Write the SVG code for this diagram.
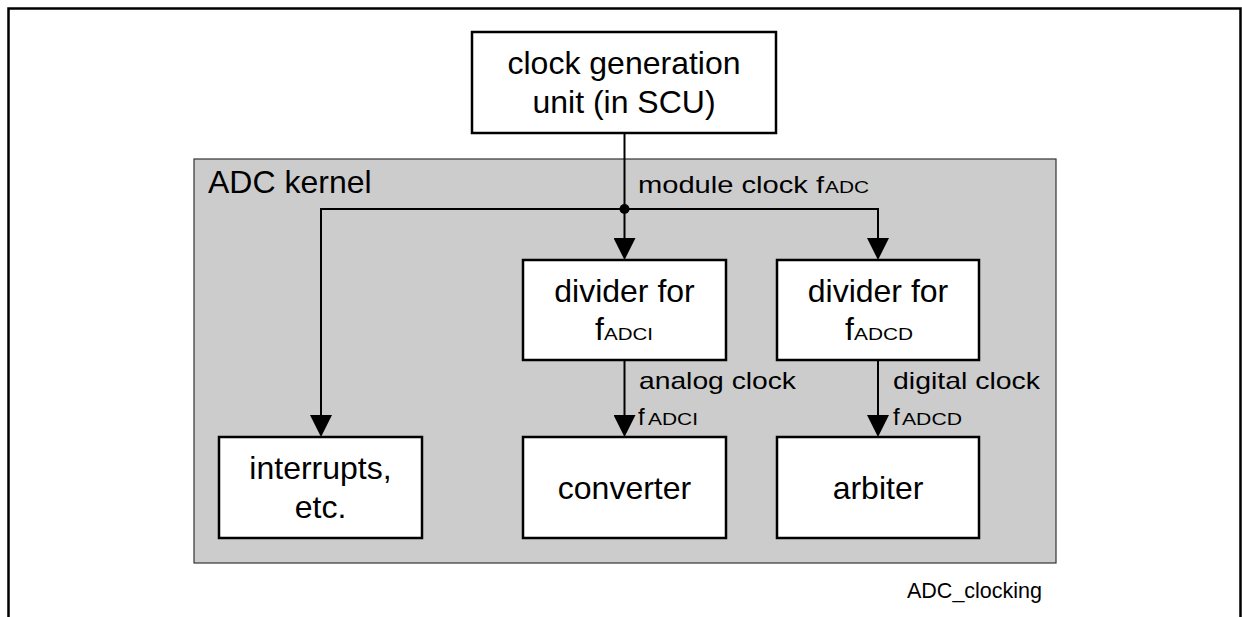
<svg xmlns="http://www.w3.org/2000/svg" width="1242" height="617" viewBox="0 0 1242 617">
<style>
.box{fill:#ffffff;stroke:#000000;stroke-width:2.5}
.t{font-family:"Liberation Sans",Arial,sans-serif;font-size:32px;fill:#000000}
.c{text-anchor:middle}
.lbl{font-family:"Liberation Sans",Arial,sans-serif;font-size:24px;fill:#000000}
.sub{font-family:"Liberation Sans",Arial,sans-serif;font-size:17px;fill:#000000}
.conn{fill:none;stroke:#000000;stroke-width:2}
</style>
<defs>
<marker id="arr" markerUnits="userSpaceOnUse" markerWidth="22" markerHeight="22" refX="12" refY="11" orient="auto">
<path d="M0,0 L22,11 L0,22 z" fill="#000000"/>
</marker>
</defs>
<rect width="1242" height="617" fill="#ffffff"/>
<path d="M8.5,617 V8.5 H1240.5 V617" fill="none" stroke="#000000" stroke-width="2.5"/>
<g id="adc-kernel">
<rect x="194" y="159" width="862" height="404" fill="#cccccc" stroke="#333333" stroke-width="1.2"/>
<text class="t" x="208" y="193">ADC kernel</text>
</g>
<g id="connectors">
<path class="conn" d="M624.5,133 V250" marker-end="url(#arr)"/>
<path class="conn" d="M624.5,209 H321 V427" marker-end="url(#arr)"/>
<path class="conn" d="M624.5,209 H878 V250" marker-end="url(#arr)"/>
<path class="conn" d="M624.5,360 V427" marker-end="url(#arr)"/>
<path class="conn" d="M878,360 V427" marker-end="url(#arr)"/>
<circle cx="624.5" cy="209" r="5" fill="#000000"/>
<text class="lbl" x="638" y="193" textLength="186" lengthAdjust="spacingAndGlyphs">module clock f</text>
<text class="sub" x="825" y="193" textLength="44" lengthAdjust="spacingAndGlyphs">ADC</text>
<text class="lbl" x="639" y="389" textLength="157" lengthAdjust="spacingAndGlyphs">analog clock</text>
<text class="lbl" x="638" y="425">f</text>
<text class="sub" x="648" y="425" textLength="50" lengthAdjust="spacingAndGlyphs">ADCI</text>
<text class="lbl" x="893" y="389" textLength="147" lengthAdjust="spacingAndGlyphs">digital clock</text>
<text class="lbl" x="893" y="425">f</text>
<text class="sub" x="902" y="425" textLength="60" lengthAdjust="spacingAndGlyphs">ADCD</text>
</g>
<g id="clock-generation-unit">
<rect class="box" x="472" y="32" width="304" height="101"/>
<text class="t c" x="624" y="74">clock generation</text>
<text class="t c" x="624" y="113">unit (in SCU)</text>
</g>
<g id="divider-adci">
<rect class="box" x="523" y="260" width="203" height="100"/>
<text class="t c" x="624.5" y="302">divider for</text>
<text class="t" x="595" y="340">f</text>
<text class="sub" x="604" y="340" textLength="49" lengthAdjust="spacingAndGlyphs">ADCI</text>
</g>
<g id="divider-adcd">
<rect class="box" x="777" y="260" width="202" height="100"/>
<text class="t c" x="878" y="302">divider for</text>
<text class="t" x="845" y="340">f</text>
<text class="sub" x="854" y="340" textLength="59" lengthAdjust="spacingAndGlyphs">ADCD</text>
</g>
<g id="interrupts">
<rect class="box" x="219" y="437" width="203" height="101"/>
<text class="t c" x="320.5" y="479">interrupts,</text>
<text class="t c" x="320.5" y="518">etc.</text>
</g>
<g id="converter">
<rect class="box" x="523" y="437" width="203" height="101"/>
<text class="t c" x="624.5" y="499">converter</text>
</g>
<g id="arbiter">
<rect class="box" x="777" y="437" width="202" height="101"/>
<text class="t c" x="878" y="499">arbiter</text>
</g>
<text class="lbl" x="907" y="598" style="font-size:21.5px" textLength="135" lengthAdjust="spacingAndGlyphs">ADC_clocking</text>
</svg>
